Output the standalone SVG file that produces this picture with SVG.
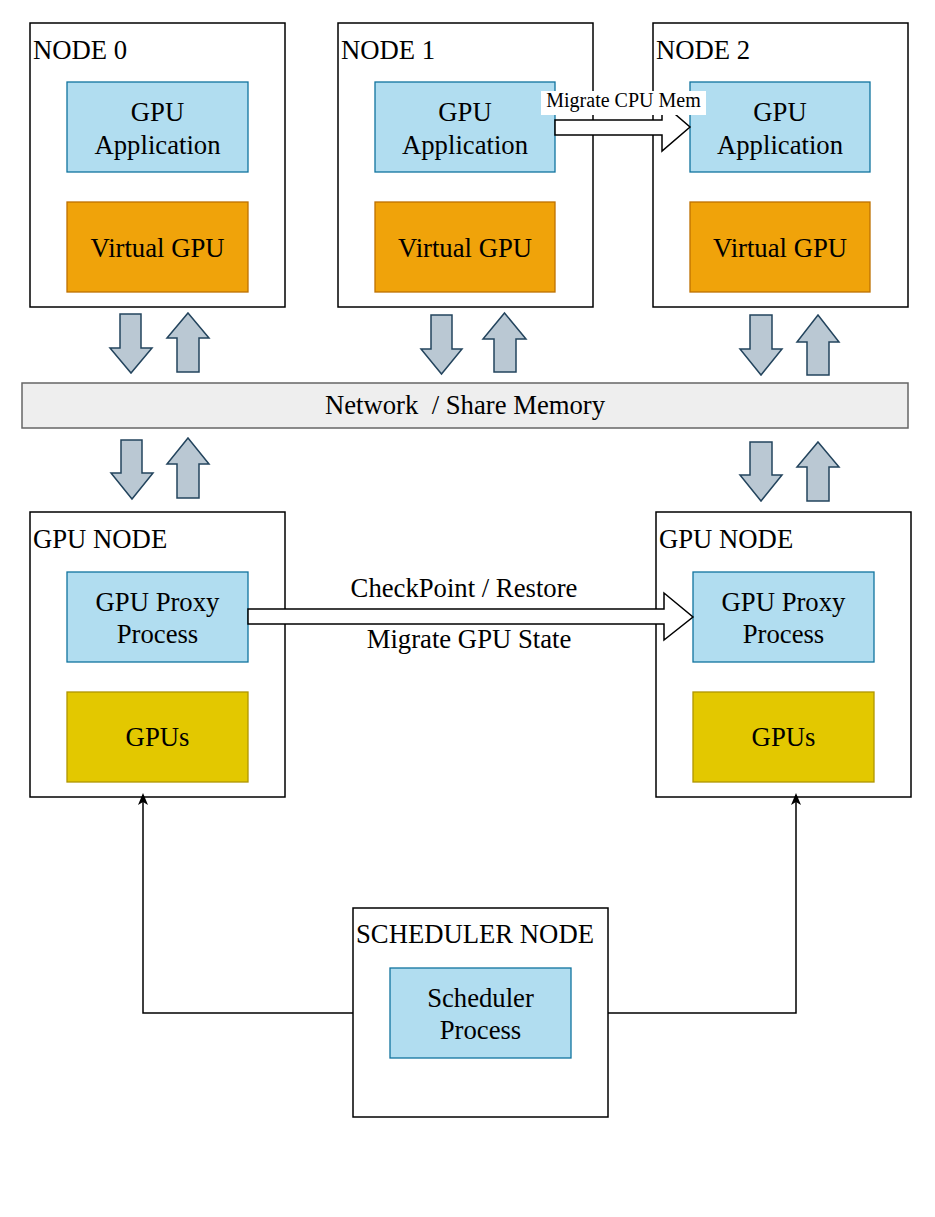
<svg xmlns="http://www.w3.org/2000/svg" width="935" height="1217" viewBox="0 0 935 1217">
<style>
text{font-family:"Liberation Serif","Times New Roman",serif;fill:#000;}
.t{font-size:26.7px;}
.c{font-size:26.7px;text-anchor:middle;}
.node{fill:#fff;stroke:#000;stroke-width:1.5;}
.blue{fill:#b1ddf0;stroke:#10739e;stroke-width:1.3;}
.orange{fill:#f0a30a;stroke:#bd7000;stroke-width:1.3;}
.yellow{fill:#e3c800;stroke:#b09500;stroke-width:1.3;}
.fat{fill:#bac8d3;stroke:#23445d;stroke-width:1.5;stroke-linejoin:miter;}
.hollow{fill:#fff;stroke:#000;stroke-width:1.5;}
.line{fill:none;stroke:#000;stroke-width:1.5;}
</style>
<defs>
<marker id="ah" markerWidth="12" markerHeight="12" refX="6" refY="6" orient="auto" markerUnits="userSpaceOnUse">
<path d="M0,1 L12,6 L0,11 L3,6 Z" fill="#000"/>
</marker>
</defs>
<rect width="935" height="1217" fill="#fff"/>

<g id="node0">
<rect class="node" x="30" y="23" width="255" height="284"/>
<text class="t" x="33" y="59">NODE 0</text>
<rect class="blue" x="67" y="82" width="181" height="90"/>
<text class="c" x="157.5" y="121">GPU</text>
<text class="c" x="157.5" y="154">Application</text>
<rect class="orange" x="67" y="202" width="181" height="90"/>
<text class="c" x="157.5" y="257">Virtual GPU</text>
</g>

<g id="node1">
<rect class="node" x="338" y="23" width="255" height="284"/>
<text class="t" x="341" y="59">NODE 1</text>
<rect class="blue" x="375" y="82" width="180" height="90"/>
<text class="c" x="465" y="121">GPU</text>
<text class="c" x="465" y="154">Application</text>
<rect class="orange" x="375" y="202" width="180" height="90"/>
<text class="c" x="465" y="257">Virtual GPU</text>
</g>

<g id="node2">
<rect class="node" x="653" y="23" width="255" height="284"/>
<text class="t" x="656" y="59">NODE 2</text>
<rect class="blue" x="690" y="82" width="180" height="90"/>
<text class="c" x="780" y="121">GPU</text>
<text class="c" x="780" y="154">Application</text>
<rect class="orange" x="690" y="202" width="180" height="90"/>
<text class="c" x="780" y="257">Virtual GPU</text>
</g>

<g id="network">
<rect x="22" y="383" width="886" height="45" fill="#eeeeee" stroke="#666666" stroke-width="1.5"/>
<text class="c" x="465" y="414" xml:space="preserve">Network  / Share Memory</text>
</g>

<g id="gpunode-left">
<rect class="node" x="30" y="512" width="255" height="285"/>
<text class="t" x="33" y="548">GPU NODE</text>
<rect class="blue" x="67" y="572" width="181" height="90"/>
<text class="c" x="157.5" y="611">GPU Proxy</text>
<text class="c" x="157.5" y="643">Process</text>
<rect class="yellow" x="67" y="692" width="181" height="90"/>
<text class="c" x="157.5" y="746">GPUs</text>
</g>

<g id="gpunode-right">
<rect class="node" x="656" y="512" width="255" height="285"/>
<text class="t" x="659" y="548">GPU NODE</text>
<rect class="blue" x="693" y="572" width="181" height="90"/>
<text class="c" x="783.5" y="611">GPU Proxy</text>
<text class="c" x="783.5" y="643">Process</text>
<rect class="yellow" x="693" y="692" width="181" height="90"/>
<text class="c" x="783.5" y="746">GPUs</text>
</g>

<g id="scheduler">
<rect class="node" x="353" y="908" width="255" height="209"/>
<text class="t" x="356" y="943">SCHEDULER NODE</text>
<rect class="blue" x="390" y="968" width="181" height="90"/>
<text class="c" x="480.5" y="1007">Scheduler</text>
<text class="c" x="480.5" y="1039">Process</text>
</g>

<g id="connectors">
<!-- node0 up/down -->
<path class="fat" d="M120,314 H141 V348 H152 L131,373 L110,348 H120 Z"/>
<path class="fat" d="M188,313 L209,338 H199 V372 H177 V338 H167 Z"/>
<path class="fat" d="M121,440 H142 V473 H153 L132,499 L111,473 H121 Z"/>
<path class="fat" d="M188,438 L209,464 H199 V498 H177 V464 H167 Z"/>
<!-- node1 -->
<path class="fat" d="M431,315 H452 V349 H462 L441.5,374 L421,349 H431 Z"/>
<path class="fat" d="M504.5,313 L526,339 H516 V372 H494 V339 H483 Z"/>
<!-- node2 -->
<path class="fat" d="M750,315 H772 V349 H782 L761,375 L740,349 H750 Z"/>
<path class="fat" d="M818,315 L839,342 H829 V375 H807 V342 H797 Z"/>
<path class="fat" d="M750,442 H772 V475 H782 L761,501 L740,475 H750 Z"/>
<path class="fat" d="M818,442 L839,467 H829 V501 H807 V467 H797 Z"/>
<!-- hollow migrate arrows -->
<path class="hollow" d="M555,120 H662 V103 L690,127 L662,151 V135 H555 Z"/>
<rect x="541" y="91" width="165" height="24" fill="#fff"/>
<text x="623.5" y="107" font-size="20" text-anchor="middle">Migrate CPU Mem</text>
<path class="hollow" d="M248,609 H664 V593 L693,617 L664,640 V624 H248 Z"/>
<text class="c" x="464" y="597">CheckPoint / Restore</text>
<text class="c" x="469" y="648">Migrate GPU State</text>
<!-- scheduler lines -->
<path class="line" d="M353,1013 H143 V799" marker-end="url(#ah)"/>
<path class="line" d="M608,1013 H796 V799" marker-end="url(#ah)"/>
</g>
</svg>
